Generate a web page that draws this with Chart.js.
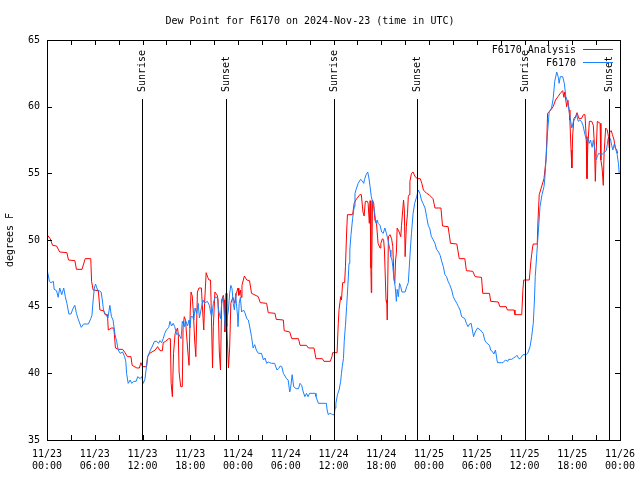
<!DOCTYPE html>
<html>
<head>
<meta charset="utf-8">
<script src="https://cdn.jsdelivr.net/npm/chart.js@4/dist/chart.umd.min.js"></script>
<style>
  html, body { margin: 0; padding: 0; background: #fff; }
  canvas { display: block; }
</style>
</head>
<body>
<canvas id="chart" width="640" height="480"></canvas>
<script>
// hours since 2024-11-23 00:00 UTC
const xTickDates = ['11/23', '11/23', '11/23', '11/23', '11/24', '11/24', '11/24', '11/24', '11/25', '11/25', '11/25', '11/25', '11/26'];
const xTickTimes = ['00:00', '06:00', '12:00', '18:00', '00:00', '06:00', '12:00', '18:00', '00:00', '06:00', '12:00', '18:00', '00:00'];

const sunLabels = ['Sunrise', 'Sunset', 'Sunrise', 'Sunset', 'Sunrise', 'Sunset'];
const sunHours = [11.95, 22.5, 36.08, 46.52, 60.08, 70.64];

// F6170 Analysis (red)
const analysisHours = [0, 0.4, 0.7, 1.2, 1.6, 2.5, 2.7, 3.5, 3.7, 4.4, 4.8, 5.5, 5.6, 5.8, 6.45, 6.65, 7.1, 7.3, 7.6, 7.7,
  8.1, 8.4, 8.6, 9.0, 9.5, 9.8, 10.1, 10.55, 10.7, 11.3, 11.6, 11.8, 12.0, 12.5, 12.65, 12.9, 13.6, 13.9, 14.2, 14.5,
  14.6, 14.9, 15.3, 15.5, 15.6, 15.75, 15.9, 16.1, 16.4, 16.5, 16.6, 16.8, 17.0, 17.1, 17.25, 17.4, 17.7, 17.85, 18.0, 18.1,
  18.25, 18.4, 18.55, 18.7, 18.9, 19.1, 19.4, 19.55, 19.7, 19.8, 20.0, 20.2, 20.35, 20.55, 20.65, 20.8, 20.9, 21.1, 21.4, 21.5,
  21.65, 21.8, 21.95, 22.15, 22.25, 22.35, 22.5, 22.6, 22.8, 22.95, 23.1, 23.35, 23.6, 23.8, 24.0, 24.1, 24.3, 24.4, 24.5, 24.8,
  25.1, 25.45, 25.7, 26.55, 26.8, 27.6, 27.8, 28.65, 28.8, 29.7, 29.8, 30.5, 30.75, 31.6, 31.8, 32.6, 32.85, 33.55, 33.8, 34.6,
  34.8, 35.6, 35.8, 35.9, 36.45, 36.6, 36.7, 36.9, 37.0, 37.15, 37.4, 37.5, 37.65, 37.75, 38.4, 38.6, 38.8, 39.3, 39.5, 39.7,
  39.85, 40.0, 40.25, 40.35, 40.5, 40.6, 40.7, 40.75, 40.8, 40.9, 41.05, 41.2, 41.4, 41.6, 41.85, 41.95, 42.15, 42.3, 42.4, 42.6,
  42.7, 42.75, 42.9, 43.1, 43.3, 43.45, 43.6, 43.7, 43.8, 43.9, 44.0, 44.25, 44.45, 44.55, 44.7, 44.8, 44.9, 45.0, 45.15, 45.3,
  45.4, 45.5, 45.6, 45.8, 46.0, 46.25, 46.55, 46.9, 47.1, 47.3, 47.7, 48.0, 48.5, 48.75, 49.5, 49.7, 50.4, 50.7, 51.5, 51.8,
  52.5, 52.7, 53.5, 53.8, 54.6, 54.75, 55.6, 55.75, 56.7, 56.9, 57.7, 57.85, 58.7, 58.8, 59.65, 59.8, 59.9, 60.6, 60.8, 60.9,
  61.0, 61.1, 61.6, 61.7, 61.85, 62.45, 62.7, 62.8, 62.9, 63.3, 63.6, 63.9, 64.2, 64.5, 64.8, 64.95, 65.05, 65.3, 65.45, 65.6,
  65.7, 65.85, 65.95, 66.05, 66.2, 66.45, 66.6, 66.85, 67.15, 67.4, 67.6, 67.75, 67.85, 67.95, 68.15, 68.45, 68.65, 68.8, 68.9, 69.0,
  69.15, 69.5, 69.6, 69.75, 69.9, 70.0, 70.2, 70.4, 70.55, 70.65, 70.7, 70.9, 71.05, 71.25, 71.4, 71.6, 71.7];
const analysisValues = [50.4, 50.1, 49.6, 49.55, 49.1, 49.05, 48.5, 48.45, 47.8, 47.8, 48.6, 48.6, 46.9, 46.25, 46.2, 44.75, 44.7, 44.4, 44.4, 43.25,
  43.4, 43.4, 41.9, 41.8, 41.8, 41.55, 41.25, 41.25, 40.6, 40.4, 40.4, 40.8, 40.5, 40.5, 41.25, 41.5, 41.75, 42.0, 41.7, 41.7,
  42.3, 42.4, 42.6, 42.6, 39.25, 38.25, 41.5, 43.0, 43.4, 42.9, 40.1, 39.0, 39.0, 43.5, 44.25, 44.0, 41.6, 40.6, 44.75, 46.1,
  45.8, 44.5, 42.5, 41.25, 46.1, 46.4, 46.4, 44.75, 43.25, 45.25, 47.55, 47.2, 47.0, 47.0, 44.5, 40.4, 43.5, 46.1, 45.85, 45.5,
  41.6, 40.25, 45.5, 45.85, 45.5, 43.1, 46.0, 43.5, 40.4, 41.9, 45.25, 45.7, 45.25, 46.0, 46.4, 45.85, 46.25, 45.7, 46.6, 47.3,
  47.0, 46.95, 46.0, 45.75, 45.3, 45.25, 44.55, 44.5, 44.05, 44.0, 43.2, 43.1, 42.6, 42.6, 42.1, 42.1, 41.9, 41.9, 41.1, 41.1,
  40.9, 40.9, 41.25, 41.55, 41.55, 43.75, 44.8, 45.75, 45.5, 46.8, 46.8, 48.0, 50.6, 51.9, 51.9, 52.75, 53.0, 53.4, 53.4, 52.1,
  51.8, 52.9, 52.9, 52.75, 51.25, 52.95, 47.9, 46.05, 47.7, 53.0, 52.75, 51.5, 51.25, 49.75, 49.4, 49.75, 50.1, 50.0, 49.25, 45.5,
  45.25, 44.0, 50.25, 50.4, 50.1, 49.5, 47.1, 46.75, 48.5, 49.0, 50.9, 50.6, 50.25, 51.1, 52.25, 53.0, 52.25, 48.75, 51.0, 52.0,
  53.25, 53.4, 54.4, 55.0, 55.1, 54.75, 54.6, 54.6, 54.25, 53.75, 53.5, 53.4, 53.1, 52.4, 52.4, 51.05, 51.0, 49.75, 49.7, 48.6,
  48.6, 47.7, 47.65, 47.25, 47.2, 46.0, 46.0, 45.4, 45.35, 45.0, 45.0, 44.75, 44.75, 44.4, 44.4, 46.25, 47.0, 47.0, 48.4, 48.9,
  49.4, 49.7, 49.7, 51.5, 53.4, 54.6, 56.0, 57.5, 59.5, 59.75, 60.0, 60.5, 60.75, 61.0, 61.2, 60.7, 61.1, 60.0, 60.5, 59.75,
  59.0, 56.75, 55.4, 57.8, 59.1, 59.3, 59.55, 59.1, 59.1, 59.4, 59.4, 57.75, 54.6, 57.0, 58.9, 58.9, 58.6, 56.9, 54.4, 56.5,
  58.9, 58.75, 56.0, 55.4, 54.1, 56.5, 58.4, 58.25, 57.75, 56.9, 58.1, 58.2, 57.9, 57.5, 56.9, 56.75, 56.5];

// F6170 observations (blue)
const stationHours = [0, 0.15, 0.3, 0.5, 0.8, 0.9, 1.2, 1.4, 1.6, 1.85, 2.1, 2.3, 2.5, 2.75, 3.0, 3.3, 3.5, 3.7, 3.9, 4.3,
  4.6, 5.2, 5.5, 5.65, 5.8, 5.95, 6.1, 6.35, 6.55, 6.8, 6.95, 7.1, 7.25, 7.4, 7.65, 7.9, 8.1, 8.3, 8.55, 8.75,
  8.95, 9.2, 9.5, 9.75, 9.9, 10.0, 10.2, 10.45, 10.65, 10.9, 11.2, 11.4, 11.7, 11.9, 12.1, 12.3, 12.5, 12.65, 13.0, 13.25,
  13.5, 13.8, 14.0, 14.2, 14.4, 14.6, 14.8, 15.0, 15.3, 15.45, 15.65, 15.85, 16.05, 16.3, 16.5, 16.85, 17.0, 17.25, 17.4, 17.65,
  17.85, 17.95, 18.1, 18.3, 18.45, 18.6, 18.8, 19.0, 19.15, 19.4, 19.6, 19.8, 20.15, 20.4, 20.55, 20.7, 20.9, 21.1, 21.4, 21.55,
  21.8, 21.95, 22.15, 22.4, 22.6, 22.8, 22.95, 23.1, 23.25, 23.4, 23.55, 23.7, 23.8, 23.95, 24.0, 24.15, 24.3, 24.45, 24.7, 24.9,
  25.1, 25.3, 25.5, 25.7, 25.9, 26.1, 26.3, 26.55, 26.95, 27.2, 27.4, 27.6, 27.8, 28.0, 28.2, 28.6, 28.9, 29.1, 29.3, 29.5,
  29.7, 30.1, 30.3, 30.5, 30.6, 30.8, 31.0, 31.3, 31.6, 31.8, 32.0, 32.2, 32.4, 32.6, 32.8, 33.0, 33.7, 33.8, 34.1, 34.7,
  35.1, 35.2, 35.35, 35.55, 35.75, 35.9, 36.1, 36.2, 36.3, 36.5, 36.7, 36.9, 37.0, 37.1, 37.25, 37.35, 37.5, 37.65, 37.8, 37.95,
  38.05, 38.2, 38.4, 38.6, 38.7, 38.9, 39.1, 39.4, 39.6, 39.8, 39.9, 40.1, 40.3, 40.45, 40.6, 40.75, 40.9, 41.05, 41.2, 41.35,
  41.5, 41.6, 41.85, 42.05, 42.25, 42.45, 42.65, 42.85, 43.1, 43.2, 43.35, 43.45, 43.6, 43.75, 43.9, 44.0, 44.15, 44.3, 44.45, 44.6,
  45.0, 45.2, 45.4, 45.5, 45.65, 45.8, 46.0, 46.2, 46.45, 46.65, 46.85, 47.05, 47.25, 47.5, 47.7, 47.9, 48.1, 48.3, 48.5, 48.75,
  48.95, 49.2, 49.4, 49.6, 49.8, 50.0, 50.2, 50.4, 50.6, 50.85, 51.05, 51.25, 51.5, 51.7, 51.9, 52.1, 52.5, 52.7, 52.9, 53.1,
  53.3, 53.6, 53.8, 54.1, 54.45, 54.8, 55.0, 55.2, 55.6, 55.75, 56.0, 56.15, 56.35, 56.6, 57.1, 57.3, 57.6, 57.9, 58.0, 58.4,
  58.6, 58.9, 59.05, 59.3, 59.45, 59.8, 60.2, 60.4, 60.7, 60.9, 61.1, 61.25, 61.35, 61.55, 61.75, 61.95, 62.2, 62.45, 62.55, 62.7,
  62.9, 63.1, 63.4, 63.6, 63.8, 64.05, 64.25, 64.35, 64.5, 64.8, 65.0, 65.2, 65.4, 65.6, 65.75, 65.95, 66.15, 66.35, 66.55, 66.75,
  66.95, 67.15, 67.35, 67.6, 67.8, 68.0, 68.15, 68.3, 68.5, 68.65, 68.85, 69.0, 69.15, 69.3, 69.7, 69.9, 70.1, 70.3, 70.5, 70.65,
  70.8, 70.95, 71.1, 71.3, 71.5, 71.65, 71.8, 71.9];
const stationValues = [47.75, 47.4, 46.9, 46.8, 46.9, 46.3, 46.2, 45.7, 46.4, 45.9, 46.4, 45.75, 45.25, 44.45, 44.45, 44.9, 45.1, 44.5, 44.1, 43.45,
  43.7, 43.7, 44.1, 44.35, 45.5, 46.4, 46.7, 46.25, 46.2, 46.1, 45.5, 44.75, 44.55, 44.4, 44.15, 45.1, 44.25, 44.0, 42.9, 42.4,
  41.75, 41.5, 41.6, 41.25, 40.9, 40.0, 39.25, 39.5, 39.25, 39.4, 39.4, 39.75, 39.6, 39.75, 39.25, 39.55, 40.5, 41.25, 41.75, 42.05,
  42.4, 42.4, 42.25, 42.45, 42.3, 42.6, 43.0, 43.25, 43.45, 43.9, 43.55, 43.75, 43.5, 42.9, 43.0, 42.6, 43.9, 43.5, 44.0, 43.55,
  44.0, 43.4, 44.25, 44.25, 44.0, 44.9, 44.5, 45.25, 44.15, 44.9, 45.5, 45.25, 45.4, 45.1, 44.6, 44.25, 45.25, 45.7, 45.7, 44.75,
  44.1, 45.25, 45.75, 43.25, 44.0, 44.75, 46.0, 46.6, 46.35, 45.25, 44.75, 46.0, 45.25, 44.25, 43.5, 45.25, 45.7, 44.6, 44.75, 44.5,
  44.1, 44.0, 43.4, 42.75, 41.9, 42.15, 41.75, 41.5, 41.5, 41.0, 41.15, 40.75, 40.85, 40.8, 40.75, 40.75, 40.25, 40.35, 40.55, 40.5,
  40.0, 39.6, 39.5, 38.6, 38.85, 39.9, 39.0, 38.85, 38.85, 39.25, 39.1, 38.6, 38.25, 38.5, 38.25, 38.5, 38.5, 38.25, 37.75, 37.75,
  37.75, 37.25, 36.9, 37.0, 36.95, 36.9, 36.9, 37.4, 37.75, 38.4, 38.75, 39.4, 40.0, 40.5, 41.1, 42.4, 43.6, 45.0, 46.5, 48.25,
  49.25, 50.4, 51.6, 52.5, 53.5, 53.9, 54.25, 54.55, 54.45, 54.25, 54.55, 54.9, 55.1, 54.65, 54.0, 53.25, 52.9, 52.5, 51.9, 51.25,
  51.5, 51.25, 51.1, 50.6, 50.5, 50.9, 50.5, 50.0, 49.25, 48.75, 48.5, 48.0, 47.1, 46.5, 45.4, 46.3, 45.75, 46.75, 46.5, 46.1,
  46.1, 46.5, 46.8, 47.75, 49.25, 50.5, 52.0, 52.75, 53.25, 53.75, 53.5, 53.0, 52.75, 52.4, 51.75, 51.1, 50.85, 50.25, 50.05, 49.75,
  49.3, 49.1, 48.85, 48.4, 48.0, 47.4, 47.25, 46.9, 46.65, 46.25, 45.75, 45.5, 45.25, 45.0, 44.75, 44.25, 44.1, 43.75, 43.5, 43.7,
  43.75, 42.75, 43.1, 43.4, 43.25, 43.0, 42.5, 42.3, 42.1, 41.75, 41.6, 41.45, 41.75, 40.8, 40.8, 40.8, 41.0, 40.9, 41.05, 41.05,
  41.15, 41.25, 41.35, 41.1, 41.1, 41.4, 41.4, 41.5, 42.0, 42.75, 43.75, 45.5, 47.25, 49.0, 50.75, 52.5, 53.4, 54.0, 54.6, 56.0,
  58.1, 59.6, 59.9, 60.6, 61.9, 62.6, 62.2, 61.75, 62.25, 62.25, 61.75, 60.75, 60.4, 59.75, 59.1, 58.4, 58.9, 59.1, 59.4, 58.9,
  59.0, 58.9, 58.6, 57.9, 57.5, 57.6, 57.25, 57.5, 56.95, 57.5, 56.75, 56.0, 56.25, 56.5, 56.4, 56.5, 56.6, 56.75, 57.6, 57.5,
  57.6, 57.1, 56.75, 57.25, 56.75, 56.4, 55.75, 55.0];

const FONT = 'DejaVu Sans Mono';

function toPoints(xs, ys) {
  return xs.map((x, i) => ({ x: x, y: ys[i] }));
}

// gnuplot-like frame, inward ticks, sunrise/sunset markers and key
const gnuplotDecor = {
  id: 'gnuplotDecor',
  afterDatasetsDraw(chart) {
    const ctx = chart.ctx;
    const area = chart.chartArea;
    const xs = chart.scales.x;
    const ys = chart.scales.y;
    ctx.save();
    ctx.strokeStyle = '#000';
    ctx.lineWidth = 1;

    // sunrise / sunset lines
    const lineTop = Math.round(ys.getPixelForValue(60.6));
    ctx.font = '10px ' + FONT;
    ctx.fillStyle = '#000';
    sunHours.forEach((h, i) => {
      const px = Math.round(xs.getPixelForValue(h)) + 0.5;
      ctx.beginPath();
      ctx.moveTo(px, lineTop);
      ctx.lineTo(px, area.bottom);
      ctx.stroke();
      ctx.save();
      ctx.translate(px, lineTop - 7);
      ctx.rotate(-Math.PI / 2);
      ctx.textAlign = 'left';
      ctx.textBaseline = 'middle';
      ctx.fillText(sunLabels[i], 0, 0);
      ctx.restore();
    });

    // border
    ctx.strokeRect(Math.round(area.left) + 0.5, Math.round(area.top) + 0.5,
      Math.round(area.right - area.left), Math.round(area.bottom - area.top));

    // inward ticks, mirrored
    ctx.beginPath();
    xs.ticks.forEach(t => {
      const px = Math.round(xs.getPixelForValue(t.value)) + 0.5;
      ctx.moveTo(px, area.bottom); ctx.lineTo(px, area.bottom - 5);
      ctx.moveTo(px, area.top); ctx.lineTo(px, area.top + 5);
    });
    ys.ticks.forEach(t => {
      const py = Math.round(ys.getPixelForValue(t.value)) + 0.5;
      ctx.moveTo(area.left, py); ctx.lineTo(area.left + 5, py);
      ctx.moveTo(area.right, py); ctx.lineTo(area.right - 5, py);
    });
    ctx.stroke();

    // key: text then line sample
    ctx.textAlign = 'right';
    ctx.textBaseline = 'middle';
    chart.data.datasets.forEach((ds, i) => {
      const y = area.top + 10 + i * 13;
      ctx.fillStyle = '#000';
      ctx.fillText(ds.label, area.right - 44, y);
      ctx.strokeStyle = ds.borderColor;
      ctx.beginPath();
      ctx.moveTo(area.right - 37, Math.round(y) - 0.5);
      ctx.lineTo(area.right - 7, Math.round(y) - 0.5);
      ctx.stroke();
    });
    ctx.restore();
  }
};

new Chart(document.getElementById('chart'), {
  type: 'line',
  data: {
    datasets: [
      {
        label: 'F6170 Analysis',
        data: toPoints(analysisHours, analysisValues),
        borderColor: '#ff0000',
        borderWidth: 1,
        pointRadius: 0,
        tension: 0,
        order: 2
      },
      {
        label: 'F6170',
        data: toPoints(stationHours, stationValues),
        borderColor: '#1a80ff',
        borderWidth: 1,
        pointRadius: 0,
        tension: 0,
        order: 1
      }
    ]
  },
  options: {
    responsive: false,
    animation: false,
    layout: { padding: { top: 0, right: 20, bottom: 0, left: 0 } },
    plugins: {
      legend: { display: false },
      tooltip: { enabled: false },
      title: {
        display: true,
        text: 'Dew Point for F6170 on 2024-Nov-23 (time in UTC)',
        color: '#000',
        font: { family: FONT, size: 10, weight: 'normal' },
        padding: { top: 15, bottom: 13 }
      }
    },
    scales: {
      x: {
        type: 'linear',
        min: 0,
        max: 72,
        grid: { display: false, drawTicks: false },
        border: { display: false },
        ticks: {
          stepSize: 3,
          autoSkip: false,
          maxRotation: 0,
          padding: 8,
          color: '#000',
          font: { family: FONT, size: 10 },
          callback: v => (v % 6 === 0 ? [xTickDates[v / 6], xTickTimes[v / 6]] : '')
        },
        afterFit: s => { s.height = 40; s.paddingLeft = 0; s.paddingRight = 0; }
      },
      y: {
        min: 35,
        max: 65,
        grid: { display: false, drawTicks: false },
        border: { display: false },
        ticks: {
          stepSize: 5,
          padding: 7,
          color: '#000',
          font: { family: FONT, size: 10 }
        },
        title: {
          display: true,
          text: 'degrees F',
          color: '#000',
          font: { family: FONT, size: 10 },
          padding: { top: 4, bottom: 0 }
        },
        afterFit: s => { s.width = 47; s.paddingTop = 0; s.paddingBottom = 0; }
      }
    }
  },
  plugins: [gnuplotDecor]
});
</script>
</body>
</html>
